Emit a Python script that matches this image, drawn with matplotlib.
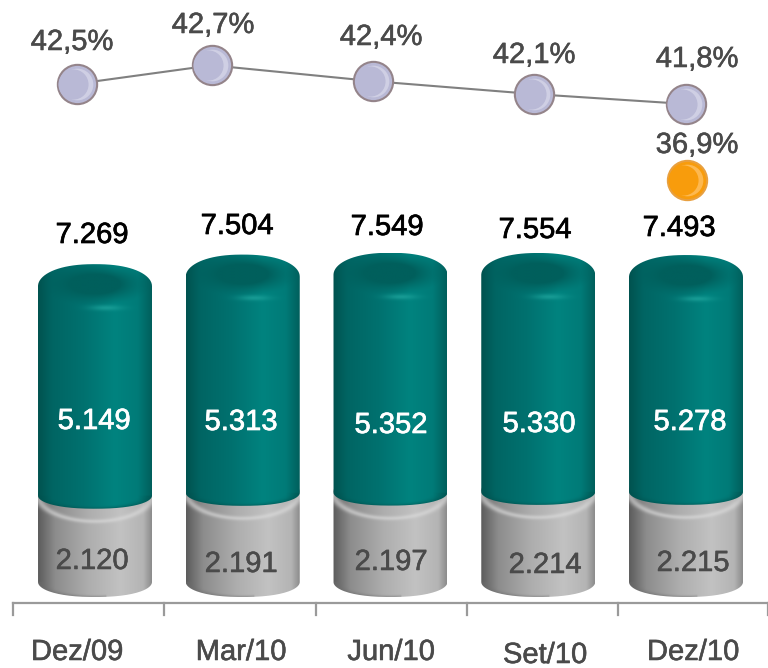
import numpy as np
import matplotlib
matplotlib.use("Agg")
import matplotlib.pyplot as plt
import matplotlib.patheffects as pe
from matplotlib.path import Path
from matplotlib.transforms import Affine2D, offset_copy
from matplotlib.colors import to_rgb

plt.rcParams['font.family'] = ['Liberation Sans', 'DejaVu Sans']

categories = ["Dez/09", "Mar/10", "Jun/10", "Set/10", "Dez/10"]
grey_values = [2120, 2191, 2197, 2214, 2215]
teal_values = [5149, 5313, 5352, 5330, 5278]
totals = [7269, 7504, 7549, 7554, 7493]
pct_labels = ["42,5%", "42,7%", "42,4%", "42,1%", "41,8%"]
# heights the markers really have in the picture, they don't follow the labels exactly
line_heights = [42.27, 42.70, 42.33, 42.03, 41.80]
orange_label = "36,9%"
orange_height = 40.03

# layout, in pixels of the 768x668 picture
PX_PER_UNIT = 0.0407
BASE_PX = 582
CENTER_PX = 95
STEP_PX = 147.75
HALF_W = 57 / STEP_PX
marker_shift = [-18, -31, -17, -4, 0]
orange_shift = 1
total_pos = [(92, 235), (237, 226), (387, 227), (535, 230), (679, 228)]
teal_pos = [(94, 421), (241, 422), (391, 425), (539, 424), (690, 422)]
grey_pos = [(92, 561), (241, 564), (391, 562), (545, 565), (693, 563)]
cat_pos = [(77, 652), (241, 652), (391, 652), (545, 655), (693, 652)]
pct_pos = [(72, 42), (213, 25), (381, 37), (534, 55), (697, 59)]
orange_pos = (697, 145)
axis_ticks_px = [13, 164, 316, 467, 618, 768]

fig = plt.figure(figsize=(7.68, 6.68), dpi=100)
ax = fig.add_axes([0, 0, 1, 1])
ax.axis("off")

px = Affine2D().scale(1 / 768, -1 / 668).translate(0, 1) + fig.transFigure


def ramp(t, stops):
    pos = [s[0] for s in stops]
    rgb = np.array([to_rgb(s[1]) for s in stops])
    return np.stack([np.interp(t, pos, rgb[:, i]) for i in range(3)], axis=-1)


def mix(img, color, amount):
    return img * (1 - amount[..., None]) + np.array(to_rgb(color)) * amount[..., None]


def cylinder(xc, y0, y1, top_px, bot_px, shade):
    top = top_px / PX_PER_UNIT
    bot = bot_px / PX_PER_UNIT
    t = np.linspace(0, np.pi, 80)
    # a bit squarer than an ellipse, the shoulders are rounded in the picture
    cx = np.sign(np.cos(t)) * np.abs(np.cos(t)) ** 0.88
    sy = np.sin(t)
    xs = np.r_[xc + HALF_W * cx, xc - HALF_W * cx]
    ys = np.r_[y1 + top * sy, y0 - bot * sy]
    clip = Path(np.c_[xs, ys])
    x_grid = np.linspace(-1, 1, 230)
    y_grid = np.linspace(y1 + top, y0 - bot, 420)
    u, y = np.meshgrid(x_grid, y_grid)
    img = shade(u, y, y0, y1, top, bot)
    im = ax.imshow(np.clip(img, 0, 1), extent=[xc - HALF_W, xc + HALF_W, y0 - bot, y1 + top],
                   aspect="auto", interpolation="bilinear", zorder=2)
    im.set_clip_path(clip, ax.transData)


teal_stops = [(-1, "#00524f"), (-0.75, "#006563"), (-0.2, "#00716f"), (0.35, "#00837f"),
              (0.75, "#007b78"), (1, "#005f5c")]
grey_stops = [(-1, "#5c5c5c"), (-0.7, "#8c8c8c"), (-0.1, "#aeaeae"), (0.45, "#c2c2c2"),
              (0.85, "#b4b4b4"), (1, "#8c8c8c")]


def teal_shade(u, y, y0, y1, top, bot):
    img = ramp(u, teal_stops)
    v = (y - y1) / top
    # cap of the cylinder, soft dark middle
    inner = np.sqrt((u / 0.8) ** 2 + ((v - 0.1) / 0.8) ** 2)
    img = mix(img, "#005f5c", np.clip((1.25 - inner) / 0.7, 0, 1) ** 1.3)
    img = mix(img, "#20a69e", np.exp(-(((u - 0.2) / 0.28) ** 2 + ((v + 0.98) / 0.12) ** 2)) * 0.7)
    # darker round the lower edge
    vb = (y - y0) / bot
    rb = np.sqrt(u ** 2 + np.minimum(vb, 0) ** 2)
    img = mix(img, "#00524f", np.clip((rb - 0.72) / 0.28, 0, 1) ** 2 * (vb < 0) * 0.55)
    return img


def grey_shade(u, y, y0, y1, top, bot):
    img = ramp(u, grey_stops)
    v = (y - y1) / top
    r = np.sqrt(u ** 2 + v ** 2)
    img = mix(img, "#dcdcdc", np.exp(-((r - 1) / 0.08) ** 2) * (v < 0) * 0.6)
    vb = (y - y0) / bot
    rb = np.sqrt(u ** 2 + np.minimum(vb, 0) ** 2)
    img = mix(img, "#6e6e6e", np.clip((rb - 0.8) / 0.2, 0, 1) ** 2 * (vb < 0) * (u < 0.2) * 0.5)
    return img


for i in range(len(categories)):
    cylinder(i, 0, grey_values[i], 26, 15, grey_shade)
    cylinder(i, grey_values[i], grey_values[i] + teal_values[i], 22, 13, teal_shade)

ax.set_xlim(-CENTER_PX / STEP_PX, (768 - CENTER_PX) / STEP_PX)
ax.set_ylim((BASE_PX - 668) / PX_PER_UNIT, BASE_PX / PX_PER_UNIT)

# line on its own scale
ax2 = ax.twinx()
ax2.set_ylim(41.8 + (104 - 668) / 43, 41.8 + 104 / 43)
ax2.axis("off")
xs = np.arange(len(categories)) + np.array(marker_shift) / STEP_PX
ax2.plot(xs, line_heights, color="#808080", lw=1.5, zorder=3)


def sphere(x, y, base, edge, light):
    ax2.scatter(x, y, s=800, color=base, edgecolor=edge, linewidth=1.5, zorder=4)
    ax2.scatter(x, y, s=520, color=light, linewidth=0, zorder=5)
    shifted = offset_copy(ax2.transData, fig=fig, x=-2.6, y=0, units="points")
    ax2.scatter(x, y, s=470, color=base, linewidth=0, zorder=6, transform=shifted)


for x, h in zip(xs, line_heights):
    sphere(x, h, "#b9b9d6", "#94848a", "#cfcfe4")
sphere(4 + orange_shift / STEP_PX, orange_height, "#f89c0c", "#e8a040", "#fdb850")

# axis under the bars
ax.plot([axis_ticks_px[0], axis_ticks_px[-1]], [603, 603], color="#9a9a9a", lw=1.6,
        transform=px, clip_on=False, zorder=1)
for t in axis_ticks_px:
    ax.plot([t, t], [603, 615], color="#9a9a9a", lw=1.6, transform=px, clip_on=False, zorder=1)


def label(pos, s, color, stroke=0.0):
    tx = ax2.text(pos[0], pos[1], s, transform=px, fontsize=21, color=color, ha="center",
                  va="center", zorder=8)
    if stroke:
        tx.set_path_effects([pe.withStroke(linewidth=stroke, foreground=color)])


for i in range(len(categories)):
    label(total_pos[i], f"{totals[i]:,}".replace(",", "."), "#000000", 0.5)
    label(teal_pos[i], f"{teal_values[i]:,}".replace(",", "."), "#ffffff", 0.5)
    label(grey_pos[i], f"{grey_values[i]:,}".replace(",", "."), "#4a4a4a", 0.4)
    label(cat_pos[i], categories[i], "#4a4a4a", 0.4)
    label(pct_pos[i], pct_labels[i], "#4a4a4a", 0.4)
label(orange_pos, orange_label, "#4a4a4a", 0.4)

fig.savefig("out.png", dpi=100)
